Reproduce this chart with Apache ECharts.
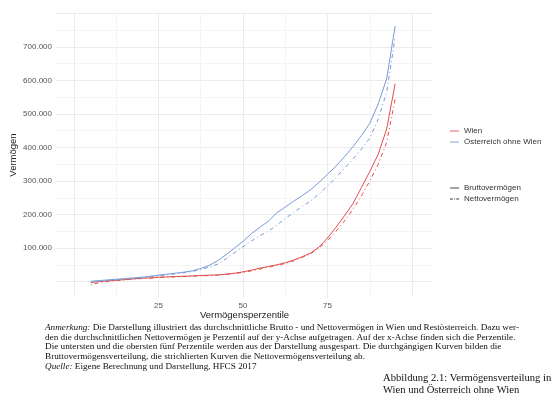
<!DOCTYPE html>
<html>
<head>
<meta charset="utf-8">
<script src="https://cdn.jsdelivr.net/npm/echarts@6/dist/echarts.min.js"></script>
<style>
html,body{margin:0;padding:0;background:#fff;}
#chart{width:560px;height:395px;}
</style>
</head>
<body>
<div id="chart"></div>
<script>
// ---- data ----
const percentiles = [5,7.5,10,12.5,15,17.5,20,22.5,25,27.5,30,32.5,35,37.5,40,42.5,45,47.5,50,52.5,55,57.5,60,62.5,65,67.5,70,72.5,75,77.5,80,82.5,85,87.5,90,92.5,95];
const wienBrutto = [-3000,0,2000,4000,6000,8000,10000,11000,13000,14000,15000,16000,17000,18000,19000,20000,22000,25000,29000,34000,40000,45000,50000,56000,64000,74000,85000,103000,130000,162000,196000,232000,280000,328000,380000,455000,590000];
const wienNetto = [-10000,-3000,0,3000,5000,7000,9000,10000,12000,13000,14000,15000,16000,17000,18000,19000,21000,24000,27000,32000,37000,43000,48000,54000,62000,72000,83000,100000,122000,150000,180000,215000,255000,300000,350000,415000,545000];
const oesterreichBrutto = [1000,3000,5000,7000,9000,11000,13000,16000,19000,22000,25000,28000,32000,39000,48000,62000,80000,100000,120000,143000,162000,180000,205000,222000,240000,256000,274000,296000,320000,344000,372000,402000,435000,472000,530000,605000,762000];
const oesterreichNetto = [-2000,1000,3000,5000,7000,9000,11000,14000,17000,20000,23000,26000,30000,36000,43000,52000,68000,86000,104000,121000,137000,150000,168000,188000,206000,224000,240000,262000,285000,310000,338000,365000,395000,428000,485000,565000,728000];

const xTickLabels = [25,50,75];
const xGridMajor = [0,25,50,75,100];
const xGridMinor = [12.5,37.5,62.5,87.5];
const yTickLabels = [100000,200000,300000,400000,500000,600000,700000];
const yGridMajor = [0,100000,200000,300000,400000,500000,600000,700000,800000];
const yGridMinor = [50000,150000,250000,350000,450000,550000,650000,750000];

const regionNames = ['Wien','Österreich ohne Wien'];
const typeNames = ['Bruttovermögen','Nettovermögen'];

const captionLines = [
  '{i|Anmerkung:} Die Darstellung illustriert das durchschnittliche Brutto - und Nettovermögen in Wien und Restösterreich. Dazu wer-',
  'den die durchschnittlichen Nettovermögen je Perzentil auf der y-Achse aufgetragen. Auf der x-Achse finden sich die Perzentile.',
  'Die untersten und die obersten fünf Perzentile werden aus der Darstellung ausgespart. Die durchgängigen Kurven bilden die',
  'Bruttovermögensverteilung, die strichlierten Kurven die Nettovermögensverteilung ab.',
  '{i|Quelle:} Eigene Berechnung und Darstellung, HFCS 2017'
];
const figureCaption = ['Abbildung 2.1: Vermögensverteilung in','Wien und Österreich ohne Wien'];

// ---- styles ----
const RED = '#e24e4a';
const BLUE = '#779bd8';
const DASH = [1,3,4,3];
const FONT = 'Liberation Sans, Arial, sans-serif';
const SERIF = 'Liberation Serif, Times New Roman, serif';
const ICON_SOLID = 'path://M0,0H10V1H0Z';
const ICON_DASH = 'path://M0,0H3.2V1H0Z M4.6,0H5.6V1H4.6Z M7,0H10V1H7Z';

function fmt(v){ return String(Math.round(v)).replace(/\B(?=(\d{3})+(?!\d))/g,'.'); }
function pts(arr){ return percentiles.map((p,i)=>[p,arr[i]]); }

const chart = echarts.init(document.getElementById('chart'), null, {renderer:'canvas'});

const XMIN = -5.3, XMAX = 106.2, YMIN = -46000, YMAX = 801000;
const gridLineMajor = {show:true, lineStyle:{color:'#ebebeb', width:1}};
const gridLineMinor = {show:true, lineStyle:{color:'#f4f4f4', width:1}};

function lineSeries(name, data, color, dashed){
  return {
    type:'line', name:name, data:data, symbol:'none', smooth:false,
    xAxisIndex:0, yAxisIndex:0,
    lineStyle:{color:color, width:1, type: dashed ? DASH : 'solid'},
    itemStyle:{color:color}, emphasis:{disabled:true}, silent:true, z:5
  };
}

const graphics = [];
captionLines.forEach((t,i)=>{
  graphics.push({type:'text', left:45, top:323 + i*9.7, style:{
    text:t, font:'9.2px '+SERIF, fill:'#111',
    rich:{i:{fontStyle:'italic', fontFamily:SERIF, fontSize:9.2, fill:'#111'}}
  }});
});
figureCaption.forEach((t,i)=>{
  graphics.push({type:'text', left:383, top:373 + i*12, style:{text:t, font:'10.6px '+SERIF, fill:'#111'}});
});

const option = {
  animation:false,
  backgroundColor:'#ffffff',
  textStyle:{fontFamily:FONT},
  grid:{left:54, top:13, width:379, height:284, containLabel:false},
  xAxis:[
    {type:'value', min:XMIN, max:XMAX, position:'bottom',
     name:'Vermögensperzentile', nameLocation:'middle', nameGap:13, nameMoveOverlap:false,
     nameTextStyle:{fontSize:9.5, color:'#222', fontFamily:FONT},
     axisLine:{show:false}, axisTick:{show:false, customValues:xGridMajor},
     axisLabel:{show:true, customValues:xTickLabels, fontSize:8, color:'#555', margin:5, fontFamily:FONT, formatter:v=>String(v)},
     splitLine:gridLineMajor},
    {type:'value', min:XMIN, max:XMAX, position:'bottom', show:true,
     axisLine:{show:false}, axisTick:{show:false, customValues:xGridMinor},
     axisLabel:{show:false, customValues:xGridMinor},
     splitLine:gridLineMinor}
  ],
  yAxis:[
    {type:'value', min:YMIN, max:YMAX, position:'left',
     name:'Vermögen', nameLocation:'middle', nameGap:38, nameRotate:90, nameMoveOverlap:false,
     nameTextStyle:{fontSize:9.5, color:'#222', fontFamily:FONT},
     axisLine:{show:false}, axisTick:{show:false, customValues:yGridMajor},
     axisLabel:{show:true, customValues:yTickLabels, fontSize:8, color:'#555', margin:4, fontFamily:FONT, formatter:fmt},
     splitLine:gridLineMajor},
    {type:'value', min:YMIN, max:YMAX, position:'left', show:true,
     axisLine:{show:false}, axisTick:{show:false, customValues:yGridMinor},
     axisLabel:{show:false, customValues:yGridMinor},
     splitLine:gridLineMinor}
  ],
  legend:[
    {data:regionNames.map(n=>({name:n, icon:ICON_SOLID})), orient:'vertical', left:445, top:122, itemWidth:9, itemHeight:8, itemGap:3,
     textStyle:{fontSize:8, color:'#333', fontFamily:FONT}, selectedMode:false},
    {data:[{name:typeNames[0], icon:ICON_SOLID},{name:typeNames[1], icon:ICON_DASH}], orient:'vertical', left:445, top:179, itemWidth:9, itemHeight:8, itemGap:3,
     textStyle:{fontSize:8, color:'#333', fontFamily:FONT}, selectedMode:false}
  ],
  series:[
    lineSeries('Wien · Brutto', pts(wienBrutto), RED, false),
    lineSeries('Wien · Netto', pts(wienNetto), RED, true),
    lineSeries('Österreich ohne Wien · Brutto', pts(oesterreichBrutto), BLUE, false),
    lineSeries('Österreich ohne Wien · Netto', pts(oesterreichNetto), BLUE, true),
    {type:'line', name:'Wien', data:[], symbol:'none', lineStyle:{color:RED, width:1}, itemStyle:{color:RED}},
    {type:'line', name:'Österreich ohne Wien', data:[], symbol:'none', lineStyle:{color:BLUE, width:1}, itemStyle:{color:BLUE}},
    {type:'line', name:'Bruttovermögen', data:[], symbol:'none', lineStyle:{color:'#333', width:1}, itemStyle:{color:'#333'}},
    {type:'line', name:'Nettovermögen', data:[], symbol:'none', lineStyle:{color:'#333', width:1, type:DASH}, itemStyle:{color:'#333'}}
  ],
  graphic:graphics
};
chart.setOption(option);
</script>
</body>
</html>
